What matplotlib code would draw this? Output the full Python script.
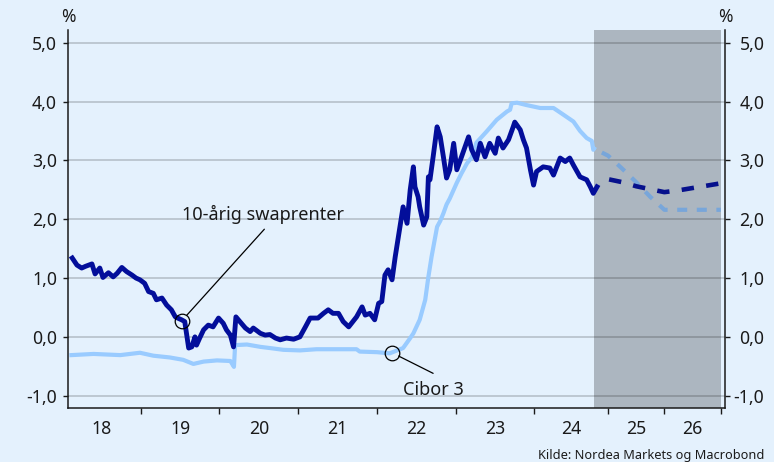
import numpy as np
import matplotlib
matplotlib.use('Agg')
import matplotlib.pyplot as plt
from matplotlib.ticker import FixedLocator, FixedFormatter, NullFormatter

plt.rcParams['font.family'] = ['Noto Sans', 'DejaVu Sans']

# ---------------- data ----------------
swap_t = [2018.13, 2018.19, 2018.25, 2018.30, 2018.38, 2018.42, 2018.48, 2018.52, 2018.59, 2018.65,
          2018.70, 2018.76, 2018.82, 2018.89, 2018.94, 2018.99, 2019.05, 2019.10, 2019.16, 2019.20,
          2019.27, 2019.33, 2019.39, 2019.44, 2019.47, 2019.52, 2019.56, 2019.61, 2019.65, 2019.69,
          2019.71, 2019.75, 2019.80, 2019.86, 2019.92, 2019.99, 2020.05, 2020.09, 2020.14, 2020.18,
          2020.21, 2020.26, 2020.33, 2020.39, 2020.43, 2020.52, 2020.58, 2020.64, 2020.71, 2020.77,
          2020.85, 2020.94, 2021.02, 2021.09, 2021.15, 2021.25, 2021.32, 2021.38, 2021.44, 2021.51,
          2021.57, 2021.64, 2021.74, 2021.81, 2021.85, 2021.91, 2021.97, 2022.02, 2022.06, 2022.10,
          2022.14, 2022.19, 2022.23, 2022.27, 2022.29, 2022.33, 2022.38, 2022.42, 2022.46, 2022.48,
          2022.52, 2022.54, 2022.59, 2022.63, 2022.65, 2022.67, 2022.71, 2022.76, 2022.80, 2022.84,
          2022.88, 2022.92, 2022.97, 2023.01, 2023.07, 2023.16, 2023.20, 2023.26, 2023.31, 2023.37,
          2023.43, 2023.50, 2023.54, 2023.60, 2023.67, 2023.73, 2023.75, 2023.82, 2023.86, 2023.90,
          2023.95, 2023.99, 2024.03, 2024.12, 2024.21, 2024.26, 2024.35, 2024.42, 2024.48, 2024.53,
          2024.62, 2024.71, 2024.76, 2024.80, 2024.85]
swap_v = [1.34, 1.22, 1.17, 1.20, 1.24, 1.07, 1.17, 1.01, 1.09, 1.02,
          1.08, 1.18, 1.11, 1.05, 1.00, 0.97, 0.91, 0.77, 0.74, 0.63,
          0.66, 0.54, 0.46, 0.34, 0.32, 0.29, 0.26, -0.19, -0.17, 0.00,
          -0.14, -0.02, 0.12, 0.20, 0.17, 0.32, 0.23, 0.12, 0.03, -0.17,
          0.34, 0.26, 0.15, 0.09, 0.15, 0.06, 0.03, 0.04, -0.02, -0.05,
          -0.02, -0.04, 0.00, 0.17, 0.32, 0.32, 0.40, 0.46, 0.40, 0.40,
          0.26, 0.17, 0.34, 0.51, 0.37, 0.40, 0.29, 0.57, 0.60, 1.05,
          1.14, 0.97, 1.36, 1.70, 1.87, 2.21, 1.93, 2.50, 2.89, 2.55,
          2.38, 2.21, 1.90, 2.04, 2.72, 2.67, 3.06, 3.57, 3.40, 3.06,
          2.70, 2.84, 3.29, 2.84, 3.06, 3.40, 3.18, 3.01, 3.29, 3.06,
          3.29, 3.12, 3.38, 3.21, 3.35, 3.57, 3.65, 3.52, 3.35, 3.21,
          2.84, 2.58, 2.81, 2.89, 2.87, 2.75, 3.04, 2.98, 3.04, 2.92,
          2.72, 2.67, 2.55, 2.44, 2.55]

cibor_t = [2018.12, 2018.40, 2018.74, 2018.99, 2019.16, 2019.37, 2019.54, 2019.67, 2019.80, 2019.97,
           2020.14, 2020.185, 2020.20, 2020.35, 2020.52, 2020.64, 2020.81, 2021.02, 2021.23, 2021.44,
           2021.74, 2021.78, 2022.00, 2022.16, 2022.33, 2022.42, 2022.46, 2022.54, 2022.61, 2022.65,
           2022.69, 2022.76, 2022.80, 2022.84, 2022.88, 2022.92, 2022.97, 2023.01, 2023.07, 2023.14,
           2023.20, 2023.26, 2023.39, 2023.52, 2023.65, 2023.69, 2023.71, 2023.78, 2023.90, 2024.08,
           2024.26, 2024.39, 2024.53, 2024.62, 2024.71, 2024.78, 2024.80, 2024.81]
cibor_v = [-0.31, -0.29, -0.31, -0.27, -0.32, -0.35, -0.39, -0.46, -0.42, -0.40,
           -0.41, -0.51, -0.14, -0.13, -0.17, -0.19, -0.22, -0.23, -0.21, -0.21,
           -0.21, -0.25, -0.26, -0.28, -0.19, -0.02, 0.06, 0.29, 0.63, 1.02,
           1.36, 1.87, 1.97, 2.10, 2.25, 2.35, 2.50, 2.62, 2.78, 2.95,
           3.05, 3.30, 3.49, 3.69, 3.83, 3.86, 3.97, 3.98, 3.94, 3.89,
           3.89, 3.78, 3.66, 3.50, 3.38, 3.33, 3.18, 3.20]

swap_fc_t = [2024.85, 2025.25, 2025.50, 2025.75, 2026.00, 2026.25, 2026.50, 2026.75, 2027.00]
swap_fc_v = [2.72, 2.63, 2.56, 2.51, 2.46, 2.49, 2.53, 2.57, 2.61]
cibor_fc_t = [2024.81, 2025.00, 2025.25, 2025.50, 2025.75, 2026.00, 2026.25, 2026.50, 2026.75, 2027.00]
cibor_fc_v = [3.20, 3.08, 2.86, 2.63, 2.38, 2.16, 2.16, 2.16, 2.16, 2.16]

forecast_start = 2024.81
forecast_end = 2027.0

year_ticks = [2019, 2020, 2021, 2022, 2023, 2024, 2025, 2026, 2027]
year_label_pos = [2018.5, 2019.5, 2020.5, 2021.5, 2022.5, 2023.5, 2024.5, 2025.5, 2026.5]
year_labels = ['18', '19', '20', '21', '22', '23', '24', '25', '26']
y_ticks = [-1, 0, 1, 2, 3, 4, 5]
y_labels = ['-1,0', '0,0', '1,0', '2,0', '3,0', '4,0', '5,0']

# ---------------- style ----------------
BG = '#e4f1fd'
DARK = '#030e9a'
LIGHT = '#99cbff'
LIGHT_FC = '#78a6da'
DARK_FC = '#06108c'
SHADE = '#acb6c0'
INK = '#1a1a1a'

# time axis: forecast years drawn narrower (piecewise-linear scale)
nodes = np.arange(2017, 2029)
widths = [78.7, 78.7, 78.6, 79.0, 78.7, 79.0, 78.3, 73.7, 56.3, 56.4, 56.4]
pos = np.concatenate([[0.0], np.cumsum(widths)])


def fwd(x):
    return np.interp(np.asarray(x, dtype=float), nodes, pos)


def inv(p):
    return np.interp(np.asarray(p, dtype=float), pos, nodes)


fig = plt.figure(figsize=(7.74, 4.62), dpi=100)
fig.patch.set_facecolor(BG)
ax = fig.add_axes([68 / 774, 54 / 462, (724.7 - 68) / 774, 378 / 462])
ax.set_facecolor(BG)
ax.set_xscale('function', functions=(fwd, inv))
ax.set_xlim(2018.076, 2027.07)
ax.set_ylim(-1.209, 5.216)

ax.axvspan(forecast_start, forecast_end, color=SHADE, zorder=1, lw=0)

ax.plot(cibor_t, cibor_v, color=LIGHT, lw=3.0, zorder=3, solid_joinstyle='round')
ax.plot(swap_t, swap_v, color=DARK, lw=3.5, zorder=4, solid_joinstyle='round')
ax.plot(cibor_fc_t, cibor_fc_v, color=LIGHT_FC, lw=3.0, zorder=3,
        linestyle=(2.6, (2.4, 2.3)))
ax.plot(swap_fc_t, swap_fc_v, color=DARK_FC, lw=3.3, zorder=4,
        linestyle=(2.7, (2.7, 2.7)))

# grid
for y in y_ticks:
    ax.axhline(y, color='black', alpha=0.22, lw=1.1, zorder=2)

# axes
ax.spines['top'].set_visible(False)
for s in ['left', 'right', 'bottom']:
    ax.spines[s].set_color(INK)
    ax.spines[s].set_linewidth(1.1)
    ax.spines[s].set_zorder(6)

ax.xaxis.set_major_locator(FixedLocator(year_ticks))
ax.xaxis.set_major_formatter(NullFormatter())
ax.xaxis.set_minor_locator(FixedLocator(year_label_pos))
ax.xaxis.set_minor_formatter(FixedFormatter(year_labels))
ax.tick_params(axis='x', which='major', length=4, width=1.0, color=INK, direction='out')
ax.tick_params(axis='x', which='minor', length=0, pad=9, labelsize=12.7, labelcolor=INK)

ax.set_yticks(y_ticks)
ax.set_yticklabels(y_labels)
ax.tick_params(axis='y', which='major', length=3.6, width=1.0, color=INK, direction='out',
               pad=4.3, labelsize=12.7, labelcolor=INK, left=True, right=False)

ax2 = ax.twinx()
ax2.set_ylim(ax.get_ylim())
ax2.set_yticks(y_ticks)
ax2.set_yticklabels(y_labels)
for s in ax2.spines.values():
    s.set_visible(False)
ax2.tick_params(axis='y', length=3.6, width=1.0, color=INK, direction='out', pad=25,
                labelsize=12.7, labelcolor=INK)
for t in ax2.get_yticklabels():
    t.set_horizontalalignment('right')

# annotations
ax.plot([2019.52], [0.27], marker='o', ms=10.5, mfc='none', mec='black', mew=0.9, zorder=7)
ax.annotate('', xy=(2019.52, 0.27), xytext=(2020.57, 1.83),
            arrowprops=dict(arrowstyle='-', color='black', lw=0.9, shrinkA=0, shrinkB=5.3),
            zorder=7)
ax.text(2019.53, 1.99, '10-årig swaprenter', ha='left', va='baseline', fontsize=13, color=INK,
        zorder=8)

ax.plot([2022.19], [-0.27], marker='o', ms=10.5, mfc='none', mec='black', mew=0.9, zorder=7)
ax.annotate('', xy=(2022.19, -0.27), xytext=(2022.71, -0.62),
            arrowprops=dict(arrowstyle='-', color='black', lw=0.9, shrinkA=0, shrinkB=5.3),
            zorder=7)
ax.text(2022.33, -0.98, 'Cibor 3', ha='left', va='baseline', fontsize=13, color=INK, zorder=8)

fig.text(68 / 774, 1 - 17 / 462, '%', ha='center', va='center', fontsize=12.5, color=INK)
fig.text(725 / 774, 1 - 17 / 462, '%', ha='center', va='center', fontsize=12.5, color=INK)
fig.text(764 / 774, 3.5 / 462, 'Kilde: Nordea Markets og Macrobond', ha='right', va='baseline',
         fontsize=9.2, color=INK)

fig.savefig('out.png', dpi=100, facecolor=BG)
